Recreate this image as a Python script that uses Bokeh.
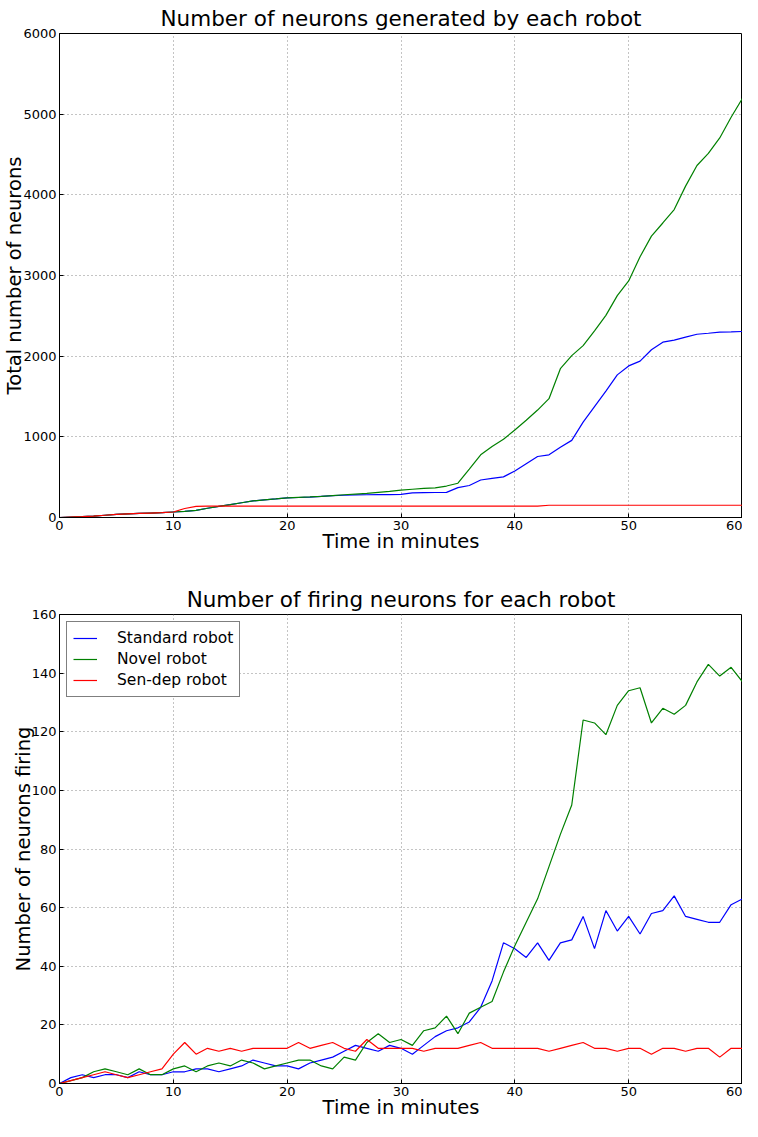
from bokeh.plotting import figure
from bokeh.models import Range1d, FixedTicker
from bokeh.layouts import column
from bokeh.embed import file_html
from bokeh.resources import INLINE

minutes = list(range(0, 61))

standard_total = [0, 5, 10, 18, 28, 38, 45, 50, 55, 60, 68,
                  75, 88, 115, 138, 160, 183, 205, 218, 230, 243,
                  248, 252, 262, 270, 276, 280, 282, 283, 284, 286,
                  305, 308, 310, 312, 370, 397, 465, 485, 504, 576,
                  666, 756, 777, 871, 956, 1183, 1375, 1567, 1768, 1879,
                  1938, 2079, 2173, 2199, 2237, 2272, 2284, 2297, 2301, 2306]
novel_total = [0, 5, 10, 18, 28, 38, 45, 50, 55, 60, 68,
               75, 88, 115, 138, 160, 183, 205, 218, 230, 243,
               250, 255, 262, 272, 282, 290, 298, 312, 325, 340,
               350, 360, 368, 390, 425, 600, 777, 880, 969, 1085,
               1205, 1332, 1473, 1845, 2007, 2131, 2314, 2506, 2750, 2933,
               3232, 3488, 3651, 3817, 4108, 4364, 4513, 4705, 4962, 5196]
sendep_total = [0, 5, 10, 18, 28, 38, 45, 50, 55, 60, 68,
                112, 138, 142, 142, 142, 142, 142, 142, 142, 142,
                142, 142, 142, 142, 142, 142, 142, 142, 142, 142,
                142, 142, 142, 142, 142, 142, 142, 142, 142, 142,
                142, 142, 152, 152, 152, 152, 152, 152, 152, 152,
                152, 152, 152, 152, 152, 152, 152, 152, 152, 152]

standard_fire = [0, 2, 3, 2, 3, 3, 2, 4, 3, 3, 4,
                 4, 5, 5, 4, 5, 6, 8, 7, 6, 6,
                 5, 7, 8, 9, 11, 13, 12, 11, 13, 12,
                 10, 13, 16, 18, 19, 21, 26, 35, 48, 46,
                 43, 48, 42, 48, 49, 57, 46, 59, 52, 57,
                 51, 58, 59, 64, 57, 56, 55, 55, 61, 63]
novel_fire = [0, 1, 2, 4, 5, 4, 3, 5, 3, 3, 5,
              6, 4, 6, 7, 6, 8, 7, 5, 6, 7,
              8, 8, 6, 5, 9, 8, 14, 17, 14, 15,
              13, 18, 19, 23, 17, 24, 26, 28, 38, 47,
              55, 63, 74, 85, 95, 124, 123, 119, 129, 134,
              135, 123, 128, 126, 129, 137, 143, 139, 142, 137]
sendep_fire = [0, 1, 2, 3, 4, 3, 2, 3, 4, 5, 10,
               14, 10, 12, 11, 12, 11, 12, 12, 12, 12,
               14, 12, 13, 14, 12, 11, 15, 12, 12, 12,
               12, 11, 12, 12, 12, 13, 14, 12, 12, 12,
               12, 12, 11, 12, 13, 14, 12, 12, 11, 12,
               12, 10, 12, 12, 11, 12, 12, 9, 12, 12]

x_ticks = [0, 10, 20, 30, 40, 50, 60]
y1_ticks = [0, 1000, 2000, 3000, 4000, 5000, 6000]
y2_ticks = [0, 20, 40, 60, 80, 100, 120, 140, 160]

series_labels = ["Standard robot", "Novel robot", "Sen-dep robot"]
series_colors = ["#0000ff", "#008000", "#ff0000"]

FONT = "DejaVu Sans"


def make_fig(title, ylabel, ymax, yticks, h, top_border, bottom_border):
    p = figure(width=742, height=h,
               x_range=Range1d(0, 60), y_range=Range1d(0, ymax),
               output_backend="svg", toolbar_location=None,
               min_border_left=54, min_border_right=0,
               min_border_top=top_border, min_border_bottom=bottom_border,
               title=title)
    p.title.text_font = FONT
    p.title.text_font_size = "21.5px"
    p.title.text_font_style = "normal"
    p.title.align = "center"
    p.title.text_color = "black"
    p.title.standoff = 6
    p.outline_line_color = "black"
    p.outline_line_width = 1
    p.background_fill_color = "white"
    p.border_fill_color = "white"
    p.xaxis.ticker = FixedTicker(ticks=x_ticks)
    p.yaxis.ticker = FixedTicker(ticks=yticks)
    for ax in (p.xaxis, p.yaxis):
        ax.major_label_text_font = FONT
        ax.major_label_text_font_size = "13px"
        ax.major_label_text_color = "black"
        ax.axis_label_text_font = FONT
        ax.axis_label_text_font_size = "19.5px"
        ax.axis_label_text_font_style = "normal"
        ax.axis_label_text_color = "black"
        ax.major_tick_in = 4
        ax.major_tick_out = 0
        ax.minor_tick_line_color = None
        ax.axis_line_color = "black"
        ax.major_tick_line_color = "black"
    p.xaxis.major_label_standoff = 3
    p.xaxis.axis_label_standoff = -3
    p.yaxis.major_label_standoff = 3
    p.yaxis.axis_label_standoff = -6
    p.xaxis.axis_label = "Time in minutes"
    p.yaxis.axis_label = ylabel
    p.grid.grid_line_color = "#888888"
    p.grid.grid_line_dash = "1 3"
    p.grid.grid_line_width = 1
    return p


p1 = make_fig("Number of neurons generated by each robot",
              "Total number of neurons", 6000, y1_ticks, 565, 25, 48)
for ys, c in zip([standard_total, novel_total, sendep_total], series_colors):
    p1.line(minutes, ys, line_color=c, line_width=1.2)

p2 = make_fig("Number of firing neurons for each robot",
              "Number of neurons firing", 160, y2_ticks, 556, 49, 28)
for ys, c, lab in zip([standard_fire, novel_fire, sendep_fire], series_colors, series_labels):
    p2.line(minutes, ys, line_color=c, line_width=1.2, legend_label=lab)

lg = p2.legend[0]
lg.location = "top_left"
lg.border_line_color = "black"
lg.border_line_width = 1
lg.background_fill_color = "white"
lg.background_fill_alpha = 1
lg.label_text_font = FONT
lg.label_text_font_size = "15.5px"
lg.label_text_color = "black"
lg.glyph_width = 24
lg.glyph_height = 20
lg.label_height = 20
lg.label_standoff = 20
lg.padding = 6
lg.spacing = 1
lg.margin = 7

layout = column(p1, p2, spacing=0)

open("out.html", "w").write(file_html(layout, INLINE))
